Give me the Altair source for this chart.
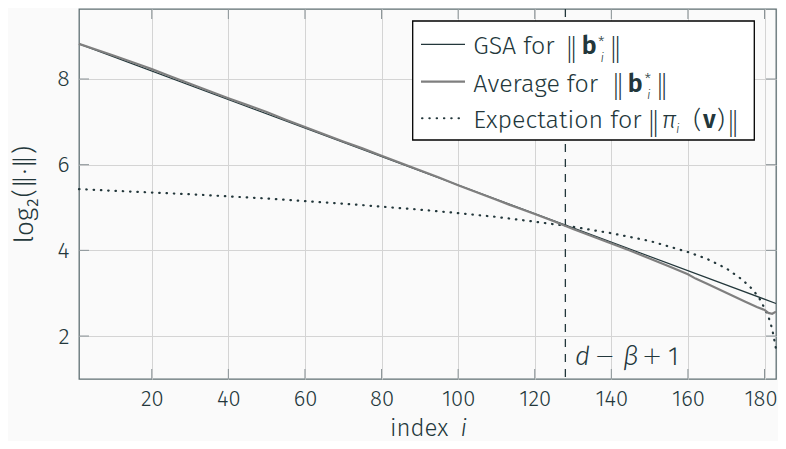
import altair as alt
import pandas as pd

# ---------------- data ----------------
gsa_x = [1, 183]
gsa_y = [8.82, 2.76]

avg_x = [1, 5, 10, 15, 20, 25, 30, 35, 40, 45, 50, 55, 60, 65, 70, 75, 80, 85, 90, 95,
         100, 105, 110, 115, 120, 125, 130, 135, 140, 145, 150, 155, 160, 162, 165, 170,
         175, 178, 180, 181, 182, 183]
avg_y = [8.82, 8.70, 8.55, 8.39, 8.23, 8.06, 7.89, 7.72, 7.55, 7.39, 7.23, 7.05, 6.88, 6.71,
         6.54, 6.38, 6.21, 6.04, 5.87, 5.70, 5.52, 5.35, 5.18, 5.01, 4.85, 4.68, 4.50, 4.33,
         4.16, 3.99, 3.81, 3.63, 3.44, 3.34, 3.22, 3.01, 2.80, 2.68, 2.61, 2.54, 2.52, 2.57]

exp_x = [1, 10, 20, 30, 40, 50, 60, 70, 80, 90, 100, 110, 120, 130, 140, 150, 160, 165,
         170, 174, 177, 179, 181, 182, 183]
exp_y = [5.43, 5.39, 5.35, 5.31, 5.26, 5.21, 5.15, 5.09, 5.02, 4.95, 4.87, 4.78, 4.67, 4.55,
         4.40, 4.22, 3.96, 3.80, 3.58, 3.33, 3.08, 2.83, 2.46, 2.17, 1.70]

x_ticks = [20, 40, 60, 80, 100, 120, 140, 160, 180]
y_ticks = [2, 4, 6, 8]
marker_x = [128]

# ---------------- styling ----------------
FONT = "Fira Sans, Open Sans, Lato, sans-serif"
SYM = "DejaVu Sans"
TXT = "#23373b"
DARK = "#23373b"
GRAY = "#7f7f7f"
W, H = 697, 370

xs = alt.Scale(domain=[1, 183], nice=False, zero=False)
ys = alt.Scale(domain=[0.997, 9.634], nice=False, zero=False)

xax = alt.Axis(values=x_ticks, grid=True, ticks=False, domain=False, title=None,
               labelFont=FONT, labelFontSize=22, labelFontWeight=300, labelColor=TXT,
               labelPadding=9, gridColor="#d4d4d4", gridWidth=1, labelFlush=False,
               labelOffset=alt.ExprRef(expr="datum.value == 180 ? -4 : 0"))
yax = alt.Axis(values=y_ticks, grid=True, ticks=False, domain=False,
               title="log₂(‖·‖)", titleFont=FONT, titleFontSize=26, titleFontWeight=300,
               titleColor=TXT, titleX=-55, titleY=185, titleAngle=270,
               titleAlign="center", titleBaseline="middle",
               labelFont=FONT, labelFontSize=23, labelFontWeight=300, labelColor=TXT,
               labelPadding=10, gridColor="#d4d4d4", gridWidth=1)

gsa_df = pd.DataFrame({"x": gsa_x, "y": gsa_y})
avg_df = pd.DataFrame({"x": avg_x, "y": avg_y})
exp_df = pd.DataFrame({"x": exp_x, "y": exp_y})
one = pd.DataFrame({"a": [0]})

def X(f):
    return alt.X(f, type="quantitative", scale=xs, axis=xax)

def Y(f):
    return alt.Y(f, type="quantitative", scale=ys, axis=yax)

layers = []

# dotted expectation
layers.append(alt.Chart(exp_df).mark_line(color=DARK, strokeWidth=2.2, strokeDash=[0.5, 6.8],
                                          strokeCap="round").encode(x=X("x"), y=Y("y")))
# dashed marker
layers.append(alt.Chart(pd.DataFrame({"x": marker_x})).mark_rule(
    color=DARK, strokeWidth=1.3, strokeDash=[8, 7]).encode(
    x=X("x"), y=alt.value(0), y2=alt.value(H)))
# GSA
layers.append(alt.Chart(gsa_df).mark_line(color=DARK, strokeWidth=1.2).encode(x=X("x"), y=Y("y")))
# average
layers.append(alt.Chart(avg_df).mark_line(color=GRAY, strokeWidth=2.2).encode(x=X("x"), y=Y("y")))

# inward ticks
TICK = "#8a9396"
xt = pd.DataFrame({"t": x_ticks})
yt = pd.DataFrame({"t": y_ticks})
layers.append(alt.Chart(xt).mark_rule(color=TICK, strokeWidth=1).encode(
    x=X("t"), y=alt.value(H), y2=alt.value(H - 10)))
layers.append(alt.Chart(xt).mark_rule(color=TICK, strokeWidth=1).encode(
    x=X("t"), y=alt.value(0), y2=alt.value(10)))
layers.append(alt.Chart(yt).mark_rule(color=TICK, strokeWidth=1).encode(
    y=Y("t"), x=alt.value(0), x2=alt.value(10)))
layers.append(alt.Chart(yt).mark_rule(color=TICK, strokeWidth=1).encode(
    y=Y("t"), x=alt.value(W), x2=alt.value(W - 10)))

# legend box
layers.append(alt.Chart(one).mark_rect(fill="white", stroke="black", strokeWidth=1.3).encode(
    x=alt.value(333.7), x2=alt.value(675.3), y=alt.value(12), y2=alt.value(131)))
layers.append(alt.Chart(one).mark_rule(color=DARK, strokeWidth=1.2).encode(
    x=alt.value(342), x2=alt.value(386), y=alt.value(35.3)))
layers.append(alt.Chart(one).mark_rule(color=GRAY, strokeWidth=2.2).encode(
    x=alt.value(342), x2=alt.value(386), y=alt.value(72.7)))
layers.append(alt.Chart(one).mark_rule(color=DARK, strokeWidth=2.0, strokeDash=[0.5, 6.8],
                                       strokeCap="round").encode(
    x=alt.value(343), x2=alt.value(386), y=alt.value(109.3)))


def txt(s, x, y, size=25, weight=300, style="normal", font=FONT):
    return alt.Chart(one).mark_text(text=s, align="left", baseline="alphabetic", font=font,
                                    fontSize=size, fontWeight=weight, fontStyle=style,
                                    color=TXT).encode(x=alt.value(x), y=alt.value(y))

# row 1
layers += [txt("GSA for", 394.3, 45.3), txt("‖", 486, 47, size=26, font=SYM),
           txt("b", 502.7, 45.3, weight=600), txt("*", 519, 38, size=15),
           txt("i", 521.5, 53, size=13, style="italic"), txt("‖", 530, 47, size=26, font=SYM)]
# row 2
layers += [txt("Average for", 394.3, 82.7), txt("‖", 532.5, 84.4, size=26, font=SYM),
           txt("b", 548.7, 82.7, weight=600), txt("*", 565.5, 75.4, size=15),
           txt("i", 568, 90.4, size=13, style="italic"), txt("‖", 576.5, 84.4, size=26, font=SYM)]
# row 3
layers += [txt("Expectation for", 394.3, 119.3), txt("‖", 568, 121, size=26, font=SYM),
           txt("π", 582.7, 119.3, style="italic"), txt("i", 597, 124, size=13, style="italic"),
           txt("(", 614.3, 119.3), txt("v", 624, 119.3, weight=600), txt(")", 637.7, 119.3),
           txt("‖", 647.5, 121, size=26, font=SYM)]

# annotation d - beta + 1
layers += [txt("d", 496, 356, size=26, style="italic"),
           txt("−", 515.5, 355, size=24, font=SYM),
           txt("β", 544, 356, size=26, style="italic"),
           txt("+", 563, 355, size=24, font=SYM),
           txt("1", 589, 356, size=26)]

# x axis title
layers += [txt("index", 311, 427, size=24), txt("i", 381.5, 427, size=24, style="italic")]

chart = alt.layer(*layers).properties(
    width=W, height=H,
    autosize=alt.AutoSizeParams(type="none"),
    padding={"left": 71, "top": 1, "right": 2, "bottom": 62},
    background="#fafafa",
).configure_view(stroke="#5f6f72", strokeWidth=1.3)

chart.save("out.html", embed_options={"renderer": "svg", "actions": False})
